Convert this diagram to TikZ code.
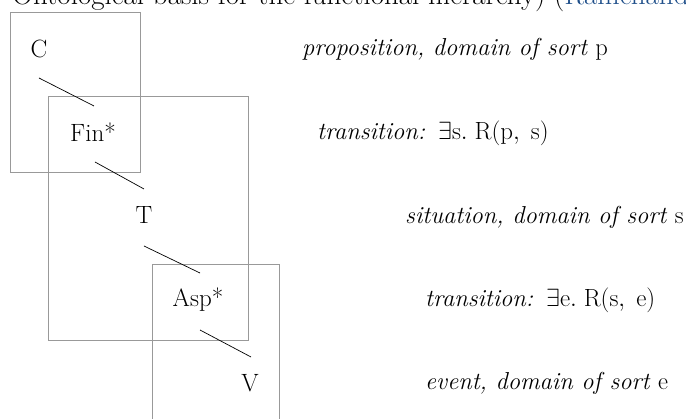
\documentclass[tikz,border=0pt]{standalone}
\usepackage{amssymb}
\definecolor{boxgray}{HTML}{999999}
\definecolor{citeblue}{HTML}{1F4F8A}
\tikzset{
  lbl/.style={inner sep=0pt, font=\fontsize{25}{30}\selectfont},
  desc/.style={inner sep=0pt, font=\fontsize{24.5}{29}\selectfont},
  frame/.style={draw=boxgray, line width=0.9pt},
  link/.style={draw=black, line width=0.7pt},
}
\newcommand{\transword}{\makebox[121pt][l]{\textit{transition:}}}
\begin{document}
\begin{tikzpicture}[x=1pt,y=-1pt]
\useasboundingbox (0,0) rectangle (686,419);
\clip (0,0) rectangle (686,419);
% title line (cut off at the top edge)
\node[anchor=base west, inner sep=0pt, font=\fontsize{29}{35}\selectfont] (title) at (12,5)
  {Ontological basis for the functional hierarchy) (\textcolor{citeblue}{Ramchand}};
% frames
\draw[frame] (10,12) rectangle (140,172);
\draw[frame] (48,96) rectangle (248,340);
\draw[frame] (152,264) rectangle (279,430);
% labels
\node[lbl] (C) at (39,49) {C};
\node[lbl] (Fin) at (93,132) {Fin*};
\node[lbl] (T) at (144,215) {T};
\node[lbl] (Asp) at (198,300) {Asp*};
\node[lbl] (V) at (250,383) {V};
% connectors
\coordinate (c1) at (39,78); \coordinate (f1) at (94,106);
\coordinate (f2) at (95,162); \coordinate (t1) at (144,189);
\coordinate (t2) at (144,246); \coordinate (a1) at (200,273);
\coordinate (a2) at (200,330); \coordinate (v1) at (251,357);
\draw[link] (c1) -- (f1);
\draw[link] (f2) -- (t1);
\draw[link] (t2) -- (a1);
\draw[link] (a2) -- (v1);
% descriptions
\node[desc, anchor=west] (d1) at (302,49) {\textit{proposition, domain of sort} p};
\node[desc, anchor=west] (d2) at (317,133) {\transword$\exists\mathrm{s}.\;\mathrm{R}(\mathrm{p},\;\mathrm{s})$};
\node[desc, anchor=west] (d3) at (405,217) {\textit{situation, domain of sort} s};
\node[desc, anchor=west] (d4) at (425,300) {\transword$\exists\mathrm{e}.\;\mathrm{R}(\mathrm{s},\;\mathrm{e})$};
\node[desc, anchor=west] (d5) at (425,383) {\textit{event, domain of sort} e};
\end{tikzpicture}
\end{document}
